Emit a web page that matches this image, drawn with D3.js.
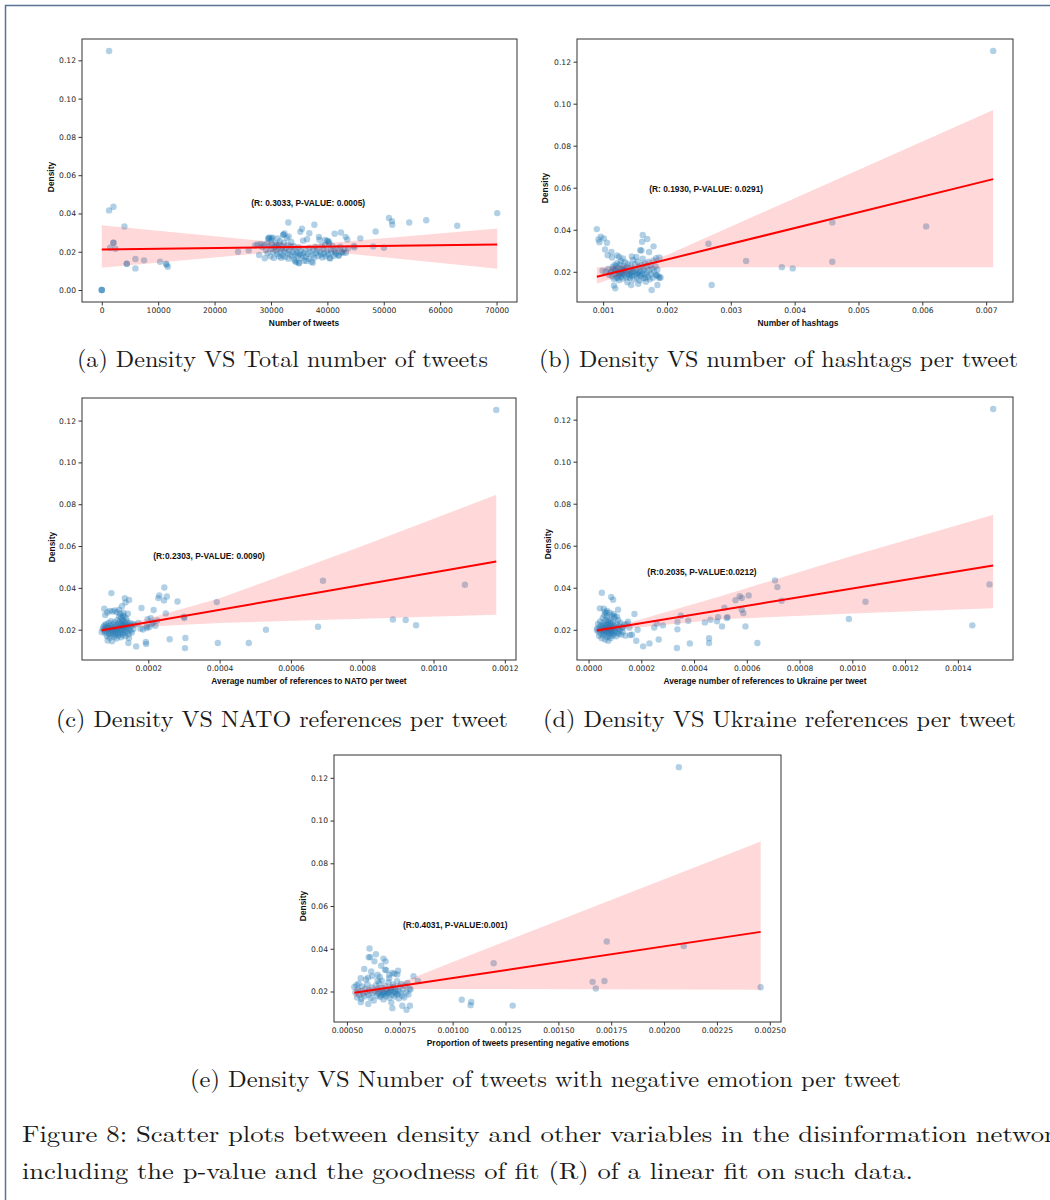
<!DOCTYPE html>
<html>
<head>
<meta charset="utf-8">
<script src="https://cdn.jsdelivr.net/npm/d3@7"></script>
<style>
body { margin: 0; background: #fff; }
svg { display: block; }
.tick text { font-family: "DejaVu Sans", sans-serif; font-size: 7.6px; fill: #262626; }
.axlabel, .note { font-family: "Liberation Sans", Arial, sans-serif; font-weight: bold; font-size: 8.4px; fill: #111; }
.cap { font-family: "Latin Modern Roman", "CMU Serif", "Liberation Serif", serif; font-size: 23.5px; fill: #1a1a1a; }
</style>
</head>
<body>
<svg id="fig"></svg>
<script>
// ---- (a) density vs number of tweets ----
var tweetPts = [
  [0,0],[0,0],[0,0],[1300,0.1249],[1300,0.0416],[2070,0.0435],[4017,0.0332],[2070,0.0247],[2070,0.0247],
  [1477,0.0221],[2420,0.0216],[4430,0.0137],[4430,0.0137],[5966,0.0162],[5966,0.0113],[7500,0.0155],
  [10340,0.0148],[11400,0.0137],[11500,0.0132],[11700,0.0122],[24160,0.0200],[26050,0.0207],
  [33080,0.0353],[37690,0.0341],[35500,0.0320],[35200,0.0304],[36800,0.0297],[41290,0.0294],[42410,0.0301],
  [43240,0.0278],[43530,0.0264],[45840,0.0270],[48560,0.0306],[50920,0.0376],[51450,0.0360],[51510,0.0341],
  [54520,0.0353],[57530,0.0365],[63030,0.0336],[70120,0.0402],[44720,0.0231],[44800,0.0222],[48140,0.0228],
  [50030,0.0221],[32190,0.0289],[32400,0.0296],[30130,0.0271],[29500,0.0268],[29700,0.0275],[33140,0.0280],
  [38510,0.0278],[39600,0.0262],[40100,0.0257],[40300,0.0250],[37400,0.0143],[34900,0.0143],[34300,0.0151],
  [36300,0.0152],[40500,0.0165],[42000,0.0180],[42500,0.0196],[41500,0.0197],[42830,0.0195],
  [27200,0.0233],[27600,0.0238],[27900,0.0183],[28200,0.0241],[28400,0.0225],[28700,0.0236],[28900,0.0166],
  [29100,0.0208],[29300,0.0243],[29400,0.0192],[29600,0.0270],[29700,0.0231],[29900,0.0176],[30000,0.0262],
  [30100,0.0215],[30200,0.0239],[30300,0.0274],[30400,0.0199],[30500,0.0168],[30700,0.0226],[30800,0.0245],
  [30900,0.0205],[31000,0.0234],[31100,0.0189],[31200,0.0270],[31300,0.0221],[31400,0.0176],[31500,0.0238],
  [31600,0.0255],[31700,0.0196],[31800,0.0169],[31900,0.0213],[32000,0.0229],[32100,0.0181],[32200,0.0289],
  [32300,0.0247],[32400,0.0201],[32500,0.0172],[32600,0.0218],[32800,0.0272],[32900,0.0193],[33000,0.0236],
  [33100,0.0164],[33200,0.0208],[33400,0.0186],[33500,0.0226],[33600,0.0251],[33700,0.0176],[33900,0.0199],
  [34000,0.0230],[34100,0.0159],[34300,0.0211],[34400,0.0183],[34500,0.0146],[34600,0.0195],[34800,0.0177],
  [34900,0.0222],[35000,0.0140],[35100,0.0189],[35300,0.0203],[35400,0.0168],[35600,0.0181],[35700,0.0258],
  [35800,0.0194],[35900,0.0153],[36100,0.0212],[36200,0.0175],[36400,0.0265],[36500,0.0189],[36700,0.0163],
  [36800,0.0219],[37000,0.0197],[37200,0.0148],[37400,0.0182],[37500,0.0211],[37700,0.0170],[37900,0.0227],
  [38000,0.0193],[38200,0.0208],[38400,0.0178],[38600,0.0263],[38700,0.0199],[38900,0.0186],[39000,0.0232],
  [39100,0.0170],[39300,0.0214],[39400,0.0191],[39600,0.0235],[39700,0.0176],[39900,0.0203],[40000,0.0257],
  [40100,0.0187],[40300,0.0244],[40400,0.0168],[40600,0.0211],[40700,0.0196],[40900,0.0230],[41100,0.0178],
  [41300,0.0205],[41500,0.0189],[41800,0.0219],[42000,0.0180],[42300,0.0227],[42600,0.0200],[43000,0.0214],
  [43300,0.0195],[43700,0.0218]
];
var tweetFit = [[0,0.0212],[70120,0.0238]];
var tweetBand = [[0,0.0116,0.0339],[36000,0.0213,0.0235],[70120,0.0111,0.0322]];
var tweetXTicks = [0,10000,20000,30000,40000,50000,60000,70000];
var tweetYTicks = [0,0.02,0.04,0.06,0.08,0.10,0.12];

// ---- (b) density vs hashtags per tweet ----
var hashtagPts = [
  [0.000901,0.0403],[0.000927,0.0354],[0.000963,0.0367],[0.000942,0.0341],[0.00101,0.0359],[0.00106,0.0338],
  [0.00103,0.0306],[0.00107,0.0279],[0.00113,0.0294],[0.00114,0.0268],[0.00162,0.0375],[0.00169,0.0356],
  [0.00161,0.0343],[0.00179,0.0321],[0.00158,0.0303],[0.00160,0.0301],[0.00172,0.0294],[0.00122,0.0278],
  [0.00265,0.0333],[0.0027,0.0137],[0.00324,0.0251],[0.0038,0.0222],[0.00397,0.0216],[0.00459,0.0435],
  [0.00459,0.0248],[0.00606,0.0416],[0.00711,0.1251],[0.00176,0.0113],[0.00119,0.0121],[0.00117,0.0135],
  [0.00185,0.0137],[0.00188,0.0170],[0.0019,0.0173],[0.00184,0.0183],[0.00155,0.0143],[0.00144,0.0137],
  [0.00183,0.0265],[0.00188,0.0268],[0.00145,0.0273],[0.00152,0.0270],[0.00125,0.0271],[0.00131,0.0263],
  [0.00112,0.0196],[0.00114,0.0178],[0.00116,0.0213],[0.00117,0.0166],[0.00118,0.0232],[0.00119,0.0189],
  [0.00120,0.0205],[0.00121,0.0226],[0.00121,0.0172],[0.00122,0.0241],[0.00123,0.0197],[0.00124,0.0183],
  [0.00124,0.0218],[0.00125,0.0160],[0.00126,0.0234],[0.00127,0.0202],[0.00128,0.0176],[0.00128,0.0251],
  [0.00129,0.0191],[0.00130,0.0215],[0.00131,0.0168],[0.00132,0.0228],[0.00133,0.0184],[0.00133,0.0207],
  [0.00134,0.0245],[0.00135,0.0195],[0.00136,0.0174],[0.00137,0.0221],[0.00138,0.0150],[0.00139,0.0238],
  [0.00140,0.0188],[0.00141,0.0204],[0.00142,0.0170],[0.00143,0.0230],[0.00144,0.0196],[0.00145,0.0181],
  [0.00146,0.0214],[0.00147,0.0256],[0.00148,0.0163],[0.00149,0.0199],[0.00150,0.0236],[0.00151,0.0185],
  [0.00152,0.0209],[0.00153,0.0172],[0.00154,0.0248],[0.00155,0.0194],[0.00156,0.0223],[0.00157,0.0158],
  [0.00158,0.0203],[0.00159,0.0180],[0.00160,0.0233],[0.00161,0.0191],[0.00162,0.0262],[0.00163,0.0169],
  [0.00164,0.0212],[0.00165,0.0240],[0.00166,0.0186],[0.00167,0.0153],[0.00168,0.0225],[0.00169,0.0197],
  [0.00170,0.0176],[0.00171,0.0248],[0.00172,0.0207],[0.00173,0.0164],[0.00174,0.0230],[0.00175,0.0189],
  [0.00177,0.0215],[0.00178,0.0172],[0.00179,0.0254],[0.00180,0.0200],[0.00182,0.0226],[0.00183,0.0185],
  [0.00185,0.0210],[0.00187,0.0178],[0.00126,0.0189],[0.00131,0.0194],[0.00137,0.0202],[0.00143,0.0187],
  [0.00119,0.0209],[0.00134,0.0216],[0.00146,0.0199],[0.00141,0.0177],[0.00153,0.0192],[0.00128,0.0208],
  [0.00123,0.0170],[0.00115,0.0223],[0.00113,0.0203],[0.00108,0.0214],[0.00104,0.0201],[0.00099,0.0205],
  [0.00109,0.0186],[0.00162,0.0205],[0.00157,0.0186],[0.00166,0.0170]
];
var hashtagFit = [[0.000901,0.0176],[0.00711,0.0641]];
var hashtagBand = [[0.000901,0.0143,0.0221],[0.0015,0.0206,0.0234],[0.0020,0.0221,0.0280],[0.00711,0.0221,0.0970]];
var hashtagXTicks = [0.001,0.002,0.003,0.004,0.005,0.006,0.007];
var midYTicks = [0.02,0.04,0.06,0.08,0.10,0.12];

// ---- (c) density vs NATO references per tweet ----
var natoPts = [
  [0.001176,0.1251],[0.0000965,0.0375],[0.000134,0.0351],[0.000146,0.0342],[0.000136,0.0330],[0.000181,0.0304],
  [0.000245,0.0402],[0.000231,0.0364],[0.000228,0.0351],[0.000252,0.0359],[0.000244,0.0340],[0.000282,0.0335],
  [0.000215,0.0294],[0.000249,0.0278],[0.000301,0.0256],[0.000300,0.0262],[0.000392,0.0332],[0.00069,0.0434],
  [0.001088,0.0415],[0.000886,0.0249],[0.000922,0.0246],[0.000951,0.0221],[0.000676,0.0214],[0.00053,0.0200],
  [0.000482,0.0136],[0.000395,0.0136],[0.000303,0.0112],[0.000304,0.0160],[0.00026,0.0154],[0.000193,0.0141],
  [0.000194,0.0132],[0.000166,0.0120],[0.000144,0.0136],[0.000146,0.0160],[0.0000694,0.0189],
  [0.000172,0.0232],[0.000178,0.0205],[0.000185,0.0201],[0.000195,0.0216],[0.000196,0.0208],[0.000203,0.0213],
  [0.000210,0.0226],[0.000214,0.0235],[0.000207,0.0255],[0.000198,0.0250],[0.000220,0.0219],[0.000225,0.0244],
  [0.000162,0.0224],
  [0.0000765,0.0300],[0.0000790,0.0270],[0.0000850,0.0282],[0.0000920,0.0290],[0.0001,0.0287],[0.000106,0.0292],
  [0.000112,0.0284],[0.000118,0.0296],[0.000121,0.0276],[0.000126,0.0312],[0.000129,0.0268],[0.000130,0.0281],
  [0.000124,0.0258],[0.000127,0.0248],[0.000133,0.0262],[0.000138,0.0254],[0.000143,0.0277],[0.000118,0.0265],
  [0.0000720,0.0204],[0.0000745,0.0214],[0.0000760,0.0196],[0.0000775,0.0221],[0.0000790,0.0183],[0.0000800,0.0208],
  [0.0000815,0.0226],[0.0000830,0.0191],[0.0000840,0.0170],[0.0000855,0.0215],[0.0000860,0.0148],[0.0000870,0.0199],
  [0.0000885,0.0232],[0.0000895,0.0180],[0.0000905,0.0207],[0.0000915,0.0162],[0.0000925,0.0219],[0.0000935,0.0188],
  [0.0000950,0.0241],[0.0000955,0.0201],[0.0000965,0.0174],[0.0000975,0.0212],[0.0000985,0.0145],[0.0000995,0.0194],
  [0.000101,0.0226],[0.000102,0.0182],[0.000103,0.0205],[0.000104,0.0166],[0.000105,0.0236],[0.000106,0.0197],
  [0.000107,0.0214],[0.000108,0.0176],[0.000109,0.0189],[0.000110,0.0222],[0.000111,0.0158],[0.000112,0.0203],
  [0.000113,0.0245],[0.000114,0.0185],[0.000115,0.0211],[0.000116,0.0171],[0.000117,0.0229],[0.000118,0.0196],
  [0.000119,0.0238],[0.000120,0.0180],[0.000121,0.0207],[0.000122,0.0219],[0.000123,0.0164],[0.000124,0.0200],
  [0.000125,0.0231],[0.000126,0.0187],[0.000127,0.0214],[0.000128,0.0242],[0.000129,0.0176],[0.000130,0.0223],
  [0.000131,0.0197],[0.000132,0.0209],[0.000133,0.0235],[0.000134,0.0185],[0.000135,0.0217],[0.000136,0.0169],
  [0.000137,0.0227],[0.000138,0.0201],[0.000140,0.0238],[0.000141,0.0190],[0.000142,0.0213],[0.000144,0.0224],
  [0.000145,0.0178],[0.000147,0.0206],[0.000148,0.0232],[0.000150,0.0195],[0.000152,0.0219],[0.000154,0.0186],
  [0.000156,0.0228],[0.000158,0.0203]
];
var natoFit = [[0.0000694,0.0197],[0.001176,0.0526]];
var natoBand = [[0.0000694,0.0185,0.0210],[0.00015,0.0210,0.0229],[0.0004,0.0232,0.0350],[0.0008,0.0252,0.0600],[0.001176,0.0272,0.0845]];
var natoXTicks = [0.0002,0.0004,0.0006,0.0008,0.0010,0.0012];

// ---- (d) density vs Ukraine references per tweet ----
var ukrainePts = [
  [0.001534,0.1251],[0.0000505,0.0376],[0.0000859,0.0356],[0.0000934,0.0343],[0.0000429,0.0302],[0.000112,0.0295],
  [0.000062,0.0285],[0.000068,0.0280],[0.000174,0.0275],[0.000707,0.0435],[0.000716,0.0403],[0.000732,0.0338],
  [0.000607,0.0363],[0.000573,0.0360],[0.000581,0.0351],[0.000557,0.0341],[0.000515,0.0305],[0.000581,0.0295],
  [0.000587,0.0279],[0.000527,0.0260],[0.000524,0.0256],[0.000491,0.0260],[0.000462,0.0248],[0.000487,0.0240],
  [0.000441,0.0235],[0.00035,0.0267],[0.000378,0.0243],[0.000337,0.0237],[0.000337,0.0202],[0.000282,0.0221],
  [0.000249,0.0211],[0.000259,0.0229],[0.000506,0.0216],[0.000595,0.0216],[0.000987,0.0251],[0.00105,0.0333],
  [0.001455,0.0221],[0.00152,0.0416],[0.00064,0.0137],[0.000457,0.0160],[0.000457,0.0137],[0.000384,0.0135],
  [0.000335,0.0113],[0.000231,0.0135],[0.000207,0.0121],[0.000266,0.0154],[0.000181,0.0148],[0.000186,0.0200],
  [0.0000314,0.0199],
  [0.000150,0.0238],[0.000145,0.0228],[0.000155,0.0210],[0.000158,0.0175],[0.000165,0.0176],[0.000140,0.0172],
  [0.000130,0.0212],[0.000135,0.0224],
  [0.0000340,0.0206],[0.0000360,0.0228],[0.0000380,0.0190],[0.0000400,0.0171],[0.0000420,0.0214],[0.0000440,0.0240],
  [0.0000450,0.0199],[0.0000470,0.0181],[0.0000480,0.0222],[0.0000500,0.0160],[0.0000510,0.0207],[0.0000530,0.0193],
  [0.0000540,0.0256],[0.0000550,0.0216],[0.0000560,0.0175],[0.0000575,0.0233],[0.0000585,0.0201],[0.0000595,0.0186],
  [0.0000605,0.0270],[0.0000615,0.0219],[0.0000625,0.0154],[0.0000635,0.0196],[0.0000645,0.0245],[0.0000655,0.0208],
  [0.0000665,0.0178],[0.0000675,0.0227],[0.0000685,0.0190],[0.0000695,0.0262],[0.0000705,0.0213],[0.0000715,0.0166],
  [0.0000725,0.0238],[0.0000735,0.0199],[0.0000745,0.0148],[0.0000755,0.0222],[0.0000765,0.0185],[0.0000775,0.0250],
  [0.0000785,0.0205],[0.0000795,0.0172],[0.0000805,0.0231],[0.0000815,0.0194],[0.0000825,0.0216],[0.0000835,0.0160],
  [0.0000845,0.0241],[0.0000855,0.0201],[0.0000865,0.0183],[0.0000875,0.0225],[0.0000885,0.0268],[0.0000895,0.0190],
  [0.0000905,0.0211],[0.0000915,0.0172],[0.0000930,0.0236],[0.0000945,0.0198],[0.0000960,0.0180],[0.0000975,0.0219],
  [0.0000990,0.0257],[0.000101,0.0192],[0.000103,0.0210],[0.000105,0.0169],[0.000107,0.0229],[0.000109,0.0187],
  [0.000111,0.0204],[0.000113,0.0246],[0.000115,0.0181],[0.000117,0.0218],[0.000119,0.0195],[0.000121,0.0232],
  [0.000124,0.0177],[0.000127,0.0208],[0.000130,0.0190],[0.0000580,0.0300],[0.0000700,0.0290],[0.0000800,0.0281],
  [0.0000940,0.0275],[0.000098,0.0264],[0.000108,0.0262]
];
var ukraineFit = [[0.0000314,0.0197],[0.001534,0.0506]];
var ukraineBand = [[0.0000314,0.0186,0.0209],[0.00015,0.0206,0.0232],[0.0005,0.0250,0.0360],[0.001,0.0277,0.0552],[0.001534,0.0303,0.0748]];
var ukraineXTicks = [0,0.0002,0.0004,0.0006,0.0008,0.0010,0.0012,0.0014];

// ---- (e) density vs tweets with negative emotion ----
var negativePts = [
  [0.00207,0.1250],[0.000607,0.0401],[0.000637,0.0374],[0.000603,0.0360],[0.000610,0.0361],[0.000673,0.0354],
  [0.000683,0.0341],[0.000630,0.0341],[0.000582,0.0305],[0.000662,0.0321],[0.000680,0.0302],[0.000686,0.0300],
  [0.000615,0.0294],[0.001194,0.0332],[0.001729,0.0434],[0.002093,0.0413],[0.001662,0.0245],[0.001718,0.0249],
  [0.001677,0.0214],[0.002457,0.0220],[0.001284,0.0134],[0.001088,0.0151],[0.001085,0.0136],[0.001043,0.0161],
  [0.000815,0.0271],[0.000836,0.0249],[0.000782,0.0114],[0.000798,0.0133],[0.000762,0.0133],[0.000715,0.0122],
  [0.000710,0.0148],[0.000601,0.0142],[0.000566,0.0150],[0.000535,0.0221],
  [0.000565,0.0262],[0.000590,0.0256],[0.000600,0.0265],[0.000620,0.0272],[0.000645,0.0278],[0.000655,0.0268],
  [0.000700,0.0278],[0.000715,0.0287],[0.000725,0.0283],[0.000742,0.0297],[0.000738,0.0280],[0.000700,0.0262],
  [0.000665,0.0251],[0.000645,0.0250],[0.000555,0.0237],[0.000545,0.0230],
  [0.000540,0.0195],[0.000548,0.0172],[0.000552,0.0210],[0.000558,0.0183],[0.000563,0.0201],[0.000568,0.0166],
  [0.000572,0.0224],[0.000577,0.0190],[0.000582,0.0177],[0.000587,0.0213],[0.000592,0.0197],[0.000597,0.0234],
  [0.000602,0.0184],[0.000607,0.0206],[0.000612,0.0170],[0.000617,0.0219],[0.000622,0.0193],[0.000627,0.0158],
  [0.000632,0.0201],[0.000637,0.0228],[0.000641,0.0180],[0.000645,0.0212],[0.000649,0.0190],[0.000653,0.0239],
  [0.000657,0.0174],[0.000661,0.0204],[0.000665,0.0217],[0.000669,0.0186],[0.000673,0.0163],[0.000677,0.0196],
  [0.000681,0.0226],[0.000685,0.0178],[0.000689,0.0209],[0.000693,0.0191],[0.000697,0.0243],[0.000701,0.0171],
  [0.000705,0.0201],[0.000709,0.0215],[0.000713,0.0184],[0.000717,0.0233],[0.000721,0.0197],[0.000725,0.0176],
  [0.000729,0.0212],[0.000733,0.0189],[0.000737,0.0248],[0.000741,0.0203],[0.000745,0.0167],[0.000749,0.0222],
  [0.000753,0.0194],[0.000757,0.0235],[0.000761,0.0180],[0.000766,0.0210],[0.000771,0.0172],[0.000776,0.0228],
  [0.000781,0.0196],[0.000786,0.0240],[0.000791,0.0186],[0.000796,0.0213],[0.000801,0.0209],[0.000690,0.0200],
  [0.000700,0.0195],[0.000680,0.0188],[0.000710,0.0205],[0.000720,0.0221],[0.000670,0.0194],[0.000660,0.0182],
  [0.000650,0.0199],[0.000730,0.0198],[0.000740,0.0187]
];
var negativeFit = [[0.000535,0.0194],[0.002457,0.0479]];
var negativeBand = [[0.000535,0.0174,0.0213],[0.00075,0.0212,0.0240],[0.001,0.0212,0.0338],[0.002457,0.0208,0.0902]];
var negativeXTicks = [0.0005,0.00075,0.001,0.00125,0.0015,0.00175,0.002,0.00225,0.0025];

// panel layout: box = [left, top, right, bottom] in px
var panels = [
  { pts: tweetPts, fit: tweetFit, band: tweetBand, xTicks: tweetXTicks, xFmt: "d", yTicks: tweetYTicks,
    box: [82, 39, 517, 302], xLabel: "Number of tweets", xLabelX: 304, yLabelX: 51, yLabelY: 177,
    note: "(R: 0.3033, P-VALUE: 0.0005)", noteAt: [26500, 0.0437],
    caption: "(a) Density VS Total number of tweets", capX: 77, capY: 367, capW: 411 },
  { pts: hashtagPts, fit: hashtagFit, band: hashtagBand, xTicks: hashtagXTicks, xFmt: ".3f", yTicks: midYTicks,
    box: [577, 39, 1013, 302], xLabel: "Number of hashtags", xLabelX: 798, yLabelX: 545, yLabelY: 188,
    note: "(R: 0.1930, P-VALUE: 0.0291)", noteAt: [0.001722, 0.0579],
    caption: "(b) Density VS number of hashtags per tweet", capX: 539, capY: 367, capW: 479 },
  { pts: natoPts, fit: natoFit, band: natoBand, xTicks: natoXTicks, xFmt: ".4f", yTicks: midYTicks,
    box: [82, 398, 516, 660], xLabel: "Average number of references to NATO per tweet", xLabelX: 309, yLabelX: 52, yLabelY: 547,
    note: "(R:0.2303, P-VALUE: 0.0090)", noteAt: [0.000214, 0.0537],
    caption: "(c) Density VS NATO references per tweet", capX: 56, capY: 727, capW: 452 },
  { pts: ukrainePts, fit: ukraineFit, band: ukraineBand, xTicks: ukraineXTicks, xFmt: ".4f", yTicks: midYTicks,
    box: [577, 397, 1013, 660], xLabel: "Average number of references to Ukraine per tweet", xLabelX: 765, yLabelX: 548, yLabelY: 544,
    note: "(R:0.2035, P-VALUE:0.0212)", noteAt: [0.000223, 0.0462],
    caption: "(d) Density VS Ukraine references per tweet", capX: 543, capY: 727, capW: 473 },
  { pts: negativePts, fit: negativeFit, band: negativeBand, xTicks: negativeXTicks, xFmt: ".5f", yTicks: midYTicks,
    box: [334, 755, 781, 1022], xLabel: "Proportion of tweets presenting negative emotions", xLabelX: 528, yLabelX: 303, yLabelY: 906,
    note: "(R:0.4031, P-VALUE:0.001)", noteAt: [0.000765, 0.0496],
    caption: "(e) Density VS Number of tweets with negative emotion per tweet", capX: 190, capY: 1087, capW: 711 }
];

var figCaption = [
  "Figure 8: Scatter plots between density and other variables in the disinformation network,",
  "including the p-value and the goodness of fit (R) of a linear fit on such data."
];

var width = 1050, height = 1200;

var svg = d3.select("#fig")
  .attr("width", width)
  .attr("height", height);

// page frame (left and top edges)
svg.append("path")
  .attr("d", "M5.5," + height + "V5.5H" + width)
  .attr("fill", "none")
  .attr("stroke", "#5a7394")
  .attr("stroke-width", 1.5);

// matplotlib style 5% margins
function padExtent(vals) {
  var e = d3.extent(vals);
  var pad = (e[1] - e[0]) * 0.05;
  return [e[0] - pad, e[1] + pad];
}

panels.forEach(function(p, i) {
  var b = p.box;
  var x = d3.scaleLinear().domain(padExtent(p.pts.map(function(d) { return d[0]; }))).range([b[0], b[2]]);
  var y = d3.scaleLinear().domain(padExtent(p.pts.map(function(d) { return d[1]; }))).range([b[3], b[1]]);

  var g = svg.append("g");

  g.append("clipPath").attr("id", "clip" + i)
    .append("rect")
    .attr("x", b[0]).attr("y", b[1])
    .attr("width", b[2] - b[0]).attr("height", b[3] - b[1]);

  var plot = g.append("g").attr("clip-path", "url(#clip" + i + ")");

  plot.selectAll("circle")
    .data(p.pts)
    .enter().append("circle")
    .attr("cx", function(d) { return x(d[0]); })
    .attr("cy", function(d) { return y(d[1]); })
    .attr("r", 3.2)
    .attr("fill", "#1f77b4")
    .attr("fill-opacity", 0.35);

  // confidence band drawn over the points, like seaborn
  plot.append("path")
    .datum(p.band)
    .attr("d", d3.area()
      .x(function(d) { return x(d[0]); })
      .y0(function(d) { return y(d[1]); })
      .y1(function(d) { return y(d[2]); }))
    .attr("fill", "#ff0000")
    .attr("fill-opacity", 0.15);

  plot.append("path")
    .datum(p.fit)
    .attr("d", d3.line()
      .x(function(d) { return x(d[0]); })
      .y(function(d) { return y(d[1]); }))
    .attr("fill", "none")
    .attr("stroke", "#ff0000")
    .attr("stroke-width", 2);

  // axes
  var xAxis = g.append("g")
    .attr("transform", "translate(0," + b[3] + ")")
    .call(d3.axisBottom(x).tickValues(p.xTicks).tickFormat(d3.format(p.xFmt)).tickSize(3.5).tickPadding(2.5));
  var yAxis = g.append("g")
    .attr("transform", "translate(" + b[0] + ",0)")
    .call(d3.axisLeft(y).tickValues(p.yTicks).tickFormat(d3.format(".2f")).tickSize(3.5).tickPadding(2.5));
  [xAxis, yAxis].forEach(function(a) {
    a.select(".domain").remove();
    a.selectAll(".tick line").attr("stroke", "#333");
    a.attr("font-family", null).attr("font-size", null);
  });

  // spines
  g.append("rect")
    .attr("x", b[0]).attr("y", b[1])
    .attr("width", b[2] - b[0]).attr("height", b[3] - b[1])
    .attr("fill", "none")
    .attr("stroke", "#333")
    .attr("stroke-width", 1);

  g.append("text")
    .attr("class", "axlabel")
    .attr("x", p.xLabelX)
    .attr("y", b[3] + 24)
    .attr("text-anchor", "middle")
    .text(p.xLabel);

  g.append("text")
    .attr("class", "axlabel")
    .attr("transform", "translate(" + (p.yLabelX + 3) + "," + p.yLabelY + ") rotate(-90)")
    .attr("text-anchor", "middle")
    .text("Density");

  g.append("text")
    .attr("class", "note")
    .attr("x", x(p.noteAt[0]))
    .attr("y", y(p.noteAt[1]))
    .text(p.note);

  g.append("text")
    .attr("class", "cap")
    .attr("x", p.capX)
    .attr("y", p.capY)
    .attr("textLength", p.capW)
    .attr("lengthAdjust", "spacingAndGlyphs")
    .text(p.caption);
});

// figure caption (first line runs off the right edge, as in the scan)
svg.append("text")
  .attr("class", "cap")
  .attr("x", 22).attr("y", 1142)
  .attr("textLength", 1054)
  .attr("lengthAdjust", "spacingAndGlyphs")
  .text(figCaption[0]);

svg.append("text")
  .attr("class", "cap")
  .attr("x", 22).attr("y", 1179)
  .attr("textLength", 891)
  .attr("lengthAdjust", "spacingAndGlyphs")
  .text(figCaption[1]);
</script>
</body>
</html>
